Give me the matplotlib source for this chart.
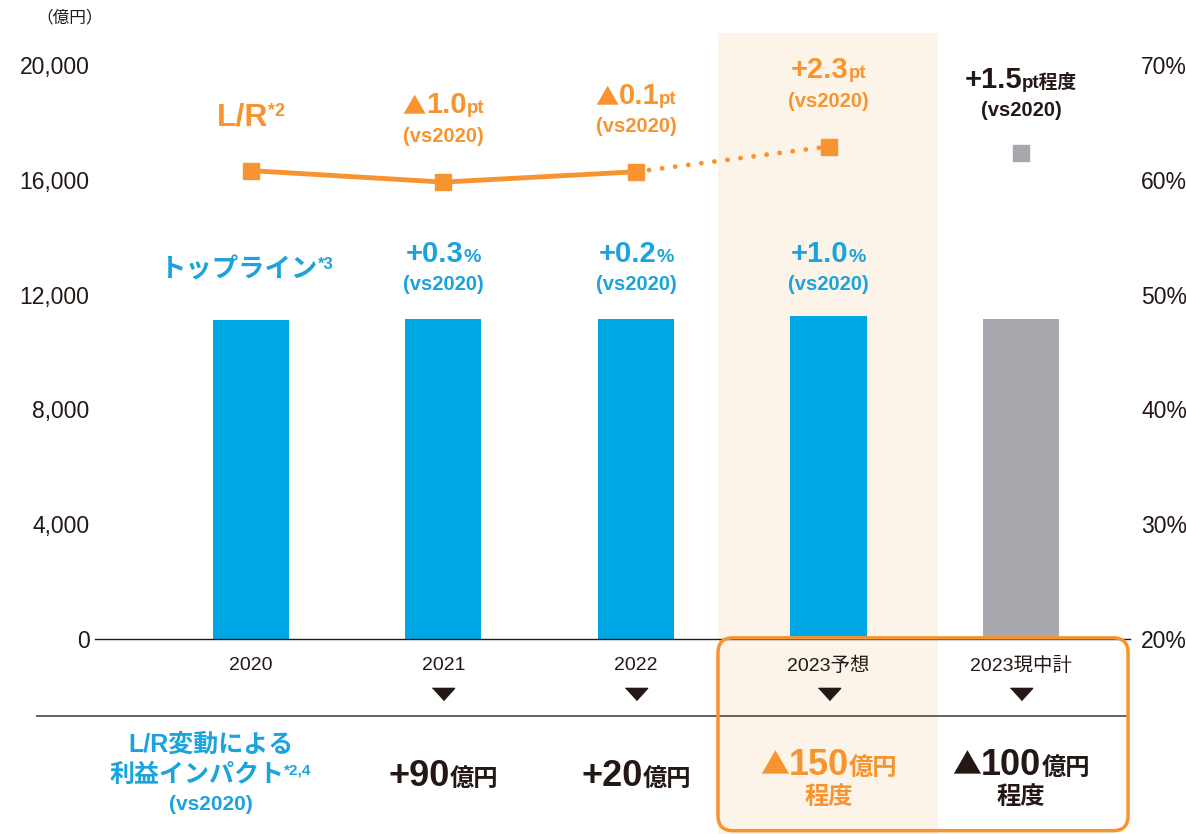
import numpy as np
import matplotlib
matplotlib.use('Agg')
import matplotlib.pyplot as plt
from matplotlib.patches import Rectangle, FancyBboxPatch
from matplotlib.lines import Line2D
from matplotlib.offsetbox import TextArea, HPacker, AnnotationBbox

plt.rcParams['font.family'] = ['Liberation Sans', 'Noto Sans CJK JP']

# data
categories = ['2020', '2021', '2022', '2023予想', '2023現中計']
topline = [11130, 11165, 11150, 11245, 11140]       # 億円
lr = [60.8, 59.8, 60.7, 62.9]                        # L/R % (2020-2023予想)
lr_plan = 62.3                                       # 2023現中計
left_ticks = [0, 4000, 8000, 12000, 16000, 20000]
left_labels = ['0', '4,000', '8,000', '12,000', '16,000', '20,000']
right_ticks = [20, 30, 40, 50, 60, 70]
right_labels = ['20%', '30%', '40%', '50%', '60%', '70%']

lr_delta = ['', '▲1.0', '▲0.1', '+2.3', '+1.5']
lr_unit = ['', 'pt', 'pt', 'pt', 'pt程度']
tl_delta = ['', '+0.3', '+0.2', '+1.0', '']
impact = ['', '+90', '+20', '▲150', '▲100']
impact_2nd = ['', '', '', '程度', '程度']

ORANGE = '#F7942F'
BLUE = '#00A7E5'
BLUE_TXT = '#1AA3DD'
GRAY = '#A7A8AD'
BAND = '#FDF4E9'
DARK = '#231815'
CJK = 'Noto Sans CJK JP'

fig = plt.figure(figsize=(11.86, 8.34), dpi=100)
ax = fig.add_axes([95/1186, 195/834, 1035/1186, 574/834])
ax2 = ax.twinx()
x = np.arange(len(categories))
xt = ax.get_xaxis_transform()

#highlight band behind 2023予想
ax.add_patch(Rectangle((2.426, -0.34), 1.143, 1.396, transform=xt,
                       color=BAND, zorder=0, clip_on=False, lw=0))

bar_colors = [BLUE]*4 + [GRAY]
ax.bar(x, topline, width=0.395, color=bar_colors, zorder=2)

#L/R line
ax2.plot(x[:3], lr[:3], color=ORANGE, lw=3.5, zorder=3)
ax2.plot(x[2:4], lr[2:4], color=ORANGE, lw=3.5, ls=(0, (0.01, 2.7)),
         dash_capstyle='round', zorder=3)
ax2.plot(x[:4], lr, 's', color=ORANGE, ms=12, zorder=4)
ax2.plot(x[4], lr_plan, 's', color=GRAY, ms=12, zorder=4)

ax.set_xlim(-0.81, 4.566)
ax.set_ylim(0, 20000)
ax2.set_ylim(20, 70)
ax.set_yticks(left_ticks, left_labels)
ax2.set_yticks(right_ticks, right_labels)
ax.set_xticks(x, categories)

for a in (ax, ax2):
    for s in a.spines.values():
        s.set_visible(False)
ax.spines['bottom'].set_visible(True)
ax.spines['bottom'].set_color(DARK)
ax.spines['bottom'].set_linewidth(1)
ax.tick_params(axis='y', length=0, pad=4, labelsize=16.5, labelcolor=DARK)
ax2.tick_params(axis='y', length=0, pad=8, labelsize=16.5, labelcolor=DARK)
ax.tick_params(axis='x', length=0, pad=13, labelsize=14, labelcolor=DARK)

ax.text(-0.94, 1.082, '（億円）', transform=xt, ha='center', va='center',
        fontsize=12, color=DARK)


def rich(xc, yc, parts, color, align='baseline'):
    boxes = []
    for p in parts:
        props = dict(size=p[1], weight='bold', color=color)
        if len(p) > 2:
            props['family'] = p[2]
        boxes.append(TextArea(p[0], textprops=props))
    pack = HPacker(children=boxes, align=align, pad=0, sep=0)
    ab = AnnotationBbox(pack, (xc, yc), xycoords=xt, frameon=False,
                        box_alignment=(0.5, 0.5), annotation_clip=False,
                        zorder=6)
    ax.add_artist(ab)


def split_tri(s, size):
    #full-width triangle from the CJK font, digits from the latin one
    if s.startswith('▲'):
        return [('▲', size*0.8, CJK), (s[1:], size)]
    return [(s, size)]


#series names
rich(0, 0.908, [('L/R', 23), ('*2', 13)], ORANGE, align='top')
rich(-0.02, 0.643, [('トップライン', 19), ('*3', 12)], BLUE_TXT, align='top')

#L/R change labels
lr_y = [0, 0.930, 0.946, 0.991, 0.974]
for i in range(1, 5):
    c = DARK if i == 4 else ORANGE
    rich(x[i], lr_y[i], split_tri(lr_delta[i], 21) + [(lr_unit[i], 13.5)], c)
    rich(x[i], lr_y[i] - 0.054, [('(vs2020)', 14.5)], c)

#topline change labels
for i in range(1, 4):
    rich(x[i], 0.671, [(tl_delta[i], 21), ('%', 14)], BLUE_TXT)
    rich(x[i], 0.617, [('(vs2020)', 14.5)], BLUE_TXT)

#triangles under the year labels
tri = [(-1, 0.55), (1, 0.55), (0, -0.55)]
ax.plot(x[1:], [-0.096]*4, marker=tri, ls='none', ms=16, color=DARK,
        transform=xt, clip_on=False)

#separator
ax.add_line(Line2D([-1.112, 4.556], [-0.134, -0.134], transform=xt,
                   color='#555555', lw=1.3, clip_on=False))

#profit impact row
rich(-0.21, -0.185, [('L/R変動による', 18)], BLUE_TXT)
rich(-0.21, -0.237, [('利益インパクト', 18), ('*2,4', 11)], BLUE_TXT, align='top')
rich(-0.21, -0.289, [('(vs2020)', 15)], BLUE_TXT)
for i in range(1, 5):
    c = ORANGE if i == 3 else DARK
    parts = split_tri(impact[i], 26) + [('億円', 17.5)]
    if impact_2nd[i]:
        rich(x[i], -0.220, parts, c)
        rich(x[i], -0.277, [(impact_2nd[i], 17.5)], c)
    else:
        rich(x[i], -0.240, parts, c)

#orange frame round 2023
ax.add_patch(FancyBboxPatch((2.426, -0.334), 2.13, 0.336, transform=xt,
                            boxstyle='round,pad=0,rounding_size=0.078',
                            mutation_aspect=0.335, fill=False, ec=ORANGE,
                            lw=2.5, clip_on=False, zorder=5))
ax.set_xlim(-0.81, 4.566)
ax.set_ylim(0, 20000)

fig.savefig('out.png', dpi=100)
